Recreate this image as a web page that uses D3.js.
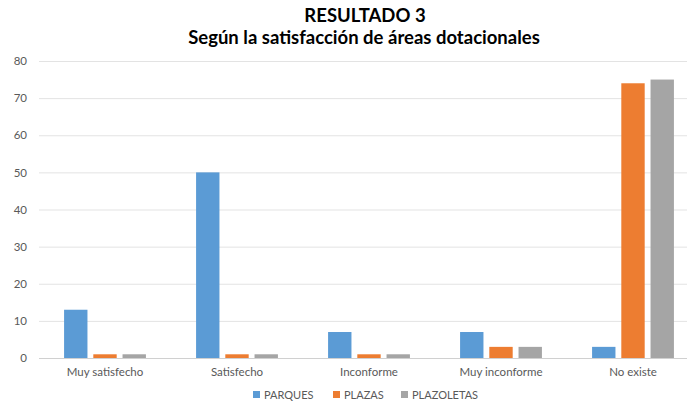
<!DOCTYPE html>
<html>
<head>
<meta charset="utf-8">
<script src="https://cdn.jsdelivr.net/npm/d3@7"></script>
<style>
  body { margin: 0; background: #fff; }
  svg { display: block; font-family: Lato, "Open Sans", sans-serif; }
</style>
</head>
<body>
<svg width="687" height="405"></svg>
<script>
const categories = ["Muy satisfecho", "Satisfecho", "Inconforme", "Muy inconforme", "No existe"];
const seriesNames = ["PARQUES", "PLAZAS", "PLAZOLETAS"];
const parques = [13, 50, 7, 7, 3];
const plazas = [1, 1, 1, 3, 74];
const plazoletas = [1, 1, 1, 3, 75];
const yTicks = [0, 10, 20, 30, 40, 50, 60, 70, 80];
const colors = ["#5b9bd5", "#ed7d31", "#a5a5a5"];

const svg = d3.select("svg");

// plot area (the original chart is cut off on the right)
const plotLeft = 39, plotRight = 699, plotTop = 61, plotBottom = 358;

const x = d3.scaleBand()
    .domain(categories)
    .range([plotLeft, plotRight])
    .paddingInner(0.38)
    .paddingOuter(0.19);

const xs = d3.scaleBand()
    .domain(seriesNames)
    .range([0, x.bandwidth()])
    .paddingInner(0.2);

const y = d3.scaleLinear()
    .domain([0, 80])
    .range([plotBottom, plotTop]);

// gridlines
svg.append("g")
    .selectAll("line")
    .data(yTicks)
    .enter()
    .append("line")
    .attr("x1", plotLeft)
    .attr("x2", plotRight)
    .attr("y1", d => y(d) + 0.5)
    .attr("y2", d => y(d) + 0.5)
    .attr("stroke", d => d === 0 ? "#d0d0d0" : "#e3e3e3")
    .attr("stroke-width", 1);

// y axis labels
const yAxis = svg.append("g")
    .attr("transform", `translate(${plotLeft},0)`)
    .call(d3.axisLeft(y).tickValues(yTicks).tickSize(0).tickPadding(12));
yAxis.select(".domain").remove();
yAxis.selectAll("text")
    .attr("fill", "#595959")
    .style("font-size", "11.5px")
    .style("font-family", "Lato, sans-serif");

// x axis labels
const xAxis = svg.append("g")
    .attr("transform", `translate(0,${plotBottom})`)
    .call(d3.axisBottom(x).tickSize(0).tickPadding(10));
xAxis.select(".domain").remove();
xAxis.selectAll("text")
    .attr("fill", "#595959")
    .style("font-size", "11.5px")
    .style("font-family", "Lato, sans-serif");

// bars
const rows = categories.map((c, i) => ({
    cat: c,
    vals: [parques[i], plazas[i], plazoletas[i]]
}));

svg.append("g")
    .selectAll("g")
    .data(rows)
    .enter()
    .append("g")
    .attr("transform", d => `translate(${x(d.cat)},0)`)
    .selectAll("rect")
    .data(d => d.vals.map((v, j) => ({ name: seriesNames[j], value: v, j: j })))
    .enter()
    .append("rect")
    .attr("x", d => xs(d.name))
    .attr("width", xs.bandwidth())
    .attr("y", d => y(d.value))
    .attr("height", d => y(0) - y(d.value))
    .attr("fill", d => colors[d.j]);

// title
const title = svg.append("g")
    .attr("text-anchor", "middle")
    .attr("font-weight", "bold")
    .attr("fill", "#000");
title.append("text")
    .attr("x", 365)
    .attr("y", 22)
    .style("font-size", "18.5px")
    .text("RESULTADO 3");
title.append("text")
    .attr("x", 364)
    .attr("y", 44)
    .style("font-size", "18.5px")
    .text("Según la satisfacción de áreas dotacionales");

// legend
const legendX = [253, 333, 401];
const legend = svg.append("g")
    .selectAll("g")
    .data(seriesNames)
    .enter()
    .append("g")
    .attr("transform", (d, i) => `translate(${legendX[i]},391)`);
legend.append("rect")
    .attr("width", 7)
    .attr("height", 7)
    .attr("fill", (d, i) => colors[i]);
legend.append("text")
    .attr("x", 11)
    .attr("y", 7.5)
    .attr("fill", "#595959")
    .style("font-size", "11px")
    .text(d => d);
</script>
</body>
</html>
